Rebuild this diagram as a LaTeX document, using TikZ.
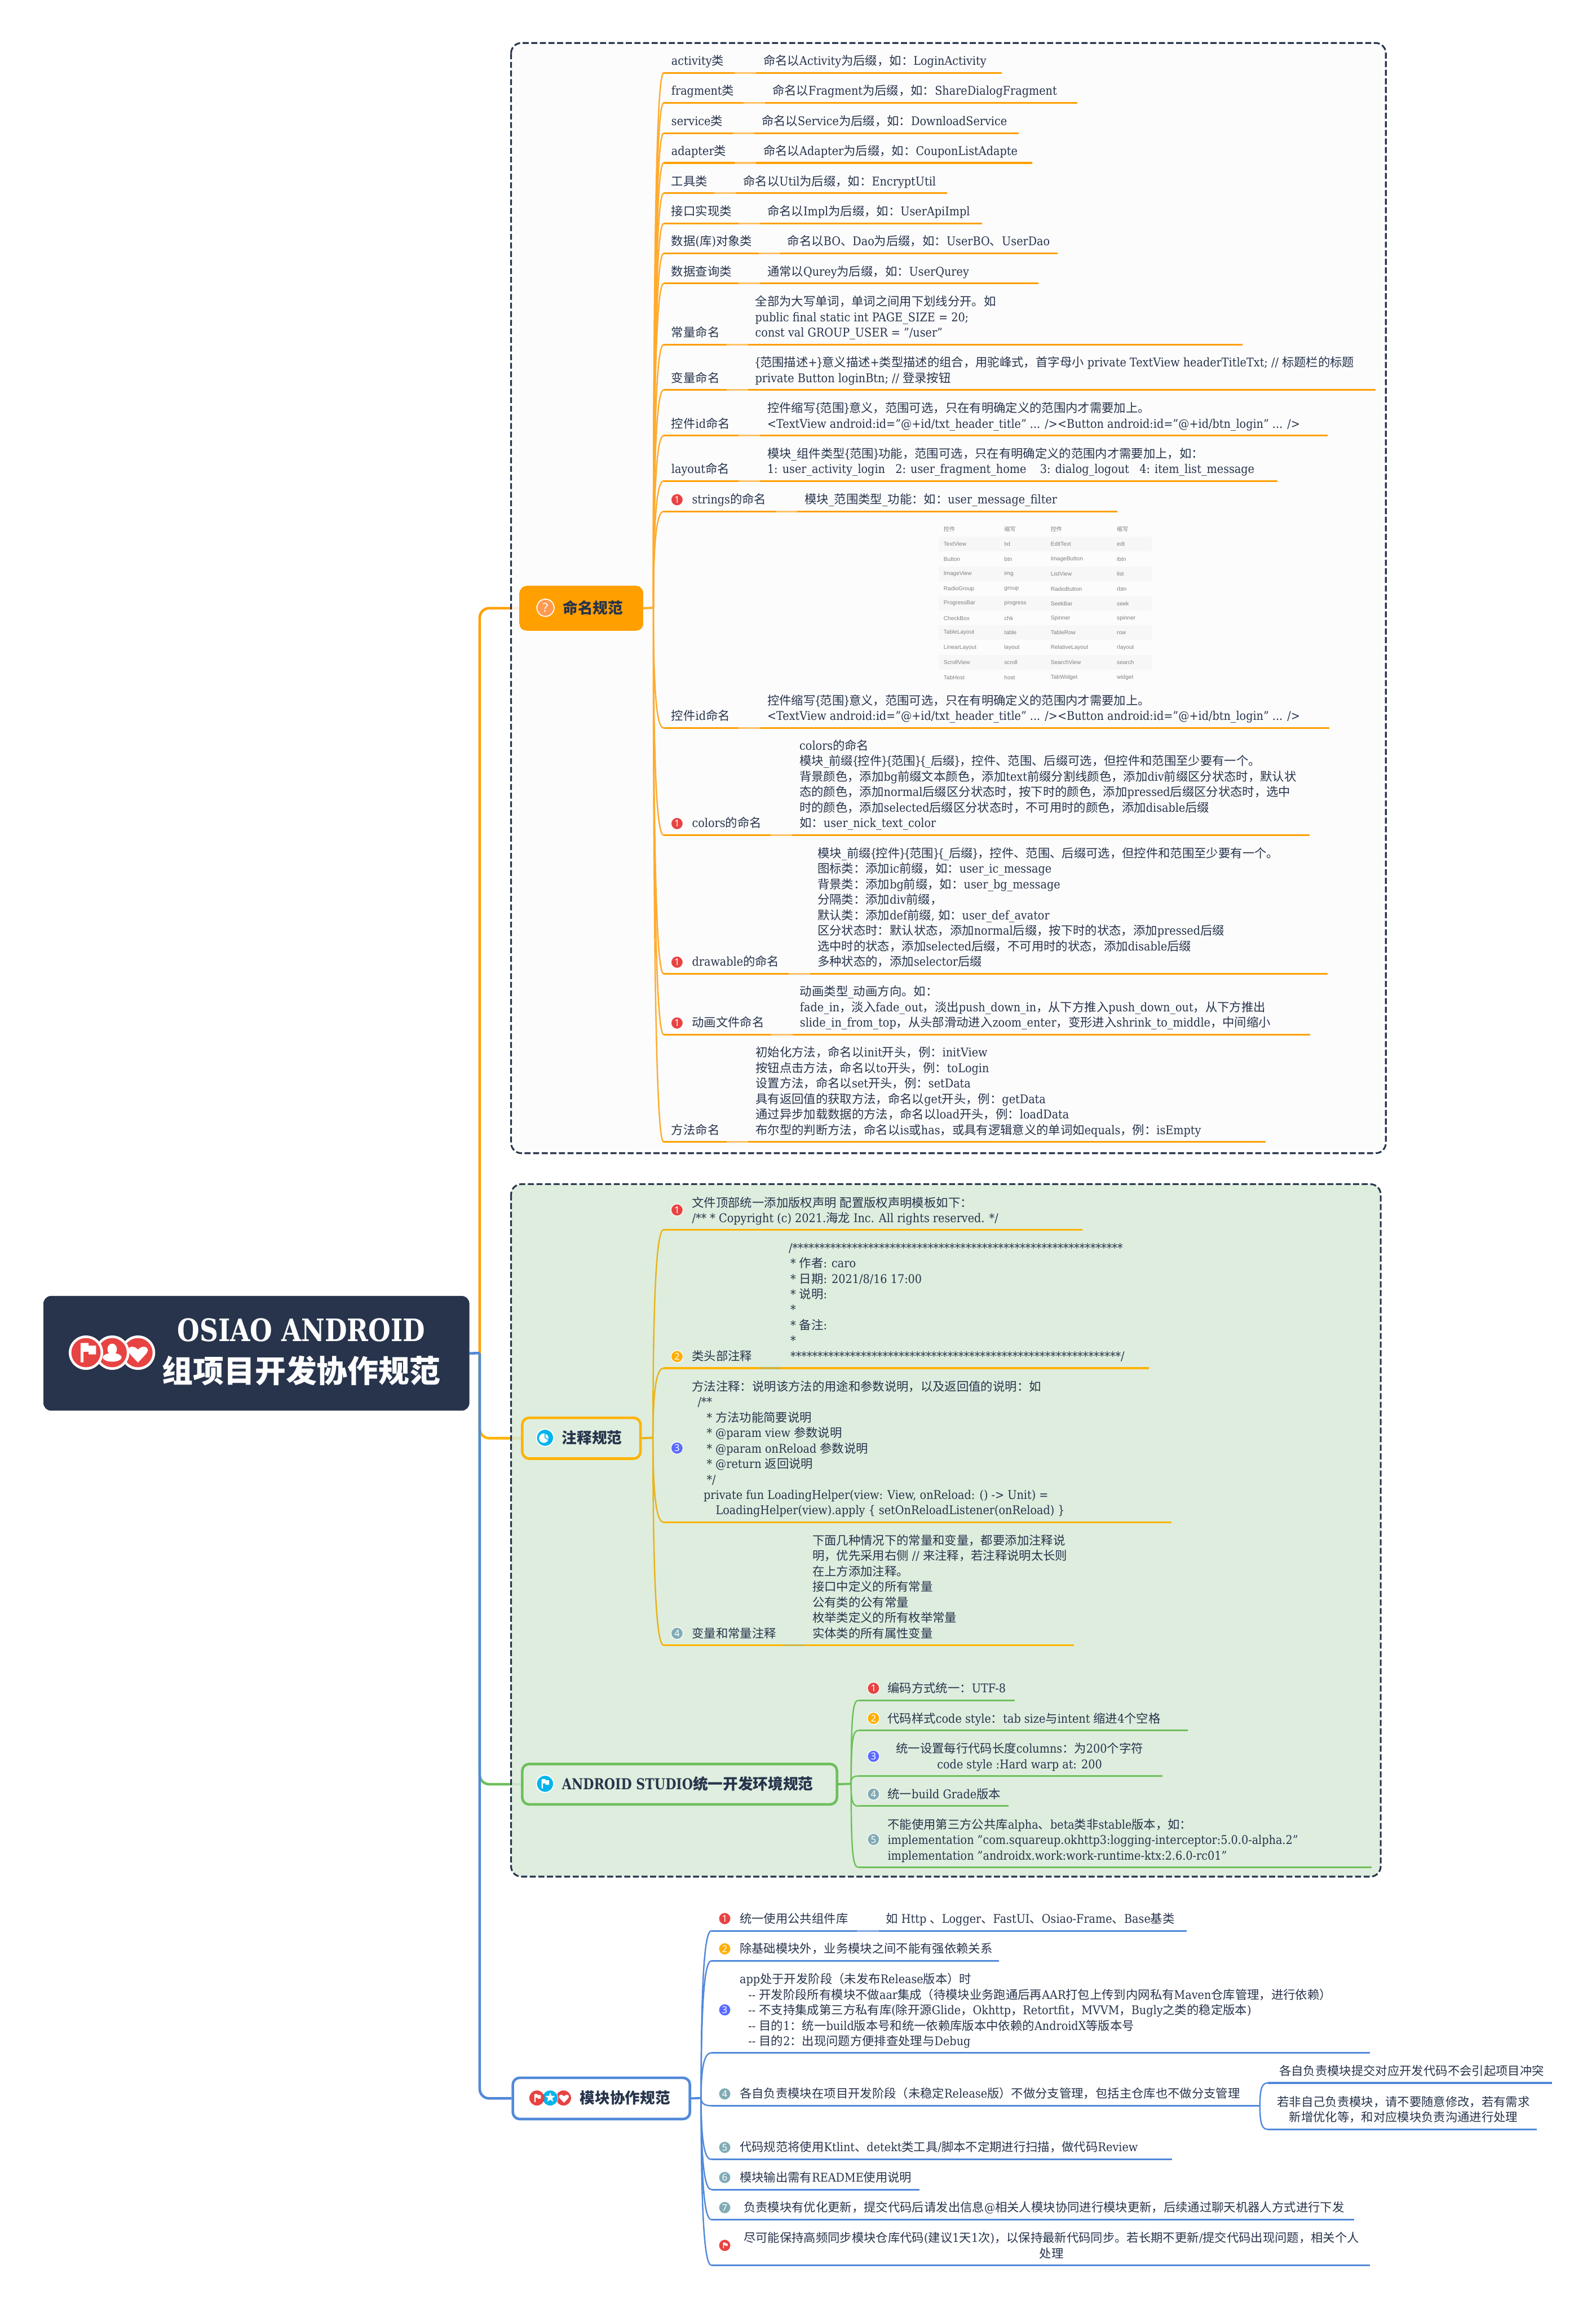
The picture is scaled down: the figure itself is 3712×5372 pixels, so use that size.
\documentclass[tikz,border=0pt]{standalone}
\usepackage{fontspec}
\usetikzlibrary{calc,shapes.geometric}
\setmainfont{DejaVu Serif}[FakeStretch=0.9]
\newfontfamily\cjkf{Noto Sans CJK SC}
\newfontfamily\ttlf{DejaVu Serif}[FakeStretch=0.83]
\newfontfamily\numf{Noto Sans}
\newfontfamily\cellf{Liberation Sans}
\newcommand\latf{\rmfamily}
\newcommand\lb{\kern-1.2pt\{\kern-1.2pt}
\newcommand\rb{\kern-1.2pt\}\kern-1.2pt}
\XeTeXinterchartokenstate=1
\newXeTeXintercharclass\cjkclass
\newcount\cc
\cc="3000 \loop\ifnum\cc<"3040 \XeTeXcharclass\cc=\cjkclass \advance\cc 1 \repeat
\cc="4E00 \loop\ifnum\cc<"A000 \XeTeXcharclass\cc=\cjkclass \advance\cc 1 \repeat
\cc="FF00 \loop\ifnum\cc<"FFF0 \XeTeXcharclass\cc=\cjkclass \advance\cc 1 \repeat
\XeTeXinterchartoks 0 \cjkclass = {\cjkf}
\XeTeXinterchartoks \cjkclass 0 = {\latf}
\XeTeXinterchartoks 4095 \cjkclass = {\cjkf}
\XeTeXinterchartoks \cjkclass 4095 = {\latf}
\definecolor{ink}{HTML}{27344C}
\definecolor{orgA}{HTML}{FF9F00}
\definecolor{orgB}{HTML}{FFAB2E}
\definecolor{orgC}{HTML}{FFC266}
\definecolor{yelA}{HTML}{FFB300}
\definecolor{yelB}{HTML}{E8B41A}
\definecolor{yelC}{HTML}{D3B43A}
\definecolor{grnA}{HTML}{6EBF5B}
\definecolor{grnC}{HTML}{8CCB7C}
\definecolor{bluA}{HTML}{5189DA}
\definecolor{bluC}{HTML}{7FA8E4}
\definecolor{mkred}{HTML}{E84343}
\definecolor{mkyel}{HTML}{FFAE00}
\definecolor{mkblu}{HTML}{5A6BFF}
\definecolor{mkgry}{HTML}{80ABB5}
\definecolor{mkcya}{HTML}{00B4EE}
\definecolor{mkorg}{HTML}{FF9A52}
\definecolor{pale}{HTML}{DFEEDF}
\definecolor{frameg}{HTML}{D9EBD9}
\definecolor{framew}{HTML}{FCFCFC}
\pgfdeclarelayer{backl}\pgfdeclarelayer{midl}\pgfsetlayers{backl,midl,main}
\tikzset{
 txt/.style={inner sep=0pt,outer sep=0pt,text=ink,align=left,font=\fontsize{14}{18}\selectfont},
 txtb/.style={txt,anchor=base west},
 txtc/.style={txt,anchor=base,align=center},
 topicname/.style={inner sep=0pt,text=ink,anchor=west,font=\fontsize{17.5}{20}\selectfont\bfseries},
 branchl/.style={draw=bc,line width=1.6pt},
 uline/.style={draw=uc,line width=2pt},
 segl/.style={draw=sc,line width=2pt},
 stub/.style={draw=bc,line width=2.5pt},
 marker/.style={circle,inner sep=0pt,minimum size=14pt,draw=white,line width=0.8pt,text=white,font=\numf\fontsize{11}{11}\selectfont\bfseries},
 bigmark/.style={marker,minimum size=20pt,line width=1.2pt,font=\numf\fontsize{14}{14}\selectfont\bfseries},
 topic/.style={rectangle,rounded corners=8pt,line width=3pt,inner sep=0pt},
 frame/.style={draw=ink,line width=2pt,dash pattern=on 7pt off 3pt,rounded corners=12pt,fill opacity=.85},
 main/.style={line width=3pt,rounded corners=11pt},
 cell/.style={inner sep=0pt,anchor=west,text=black!50,font=\cellf\fontsize{6.6}{8}\selectfont},
}
% one underlined row and the branch that feeds it
\newcommand\urow[5]{%
 \coordinate (#1s) at (#4,#3);\coordinate (#1e) at (#5,#3);
 \draw[branchl] (#2) .. controls ($(#2)!.82!(#2 |- #1s)$) and ($(#1s)+(-13,0)$) .. (#1s);
 \draw[uline] (#1s) -- (#1e);}
\newcommand\seg[2]{\draw[segl] (#1-67,#2) -- (#1-17,#2);}
% name hub y xend title valx value
\newcommand\nrow[7]{\urow{#1}{#2}{#3}{1544}{#4}\seg{#6}{#3}%
 \node[txtb] (#1t) at (1562,#3-18) {#5};
 \node[txtb] (#1v) at (#6,#3-18) {#7};}
% as above with marker "1" in front
\newcommand\mrow[7]{\urow{#1}{#2}{#3}{1544}{#4}\seg{#6}{#3}%
 \node[marker,fill=mkred] (#1k) at (1575,#3-27) {1};
 \node[txtb] (#1t) at (1610,#3-18) {#5};
 \node[txtb] (#1v) at (#6,#3-18) {#7};}
\newcommand\mk[5]{\node[marker,fill=#4] (#1) at (#2,#3) {#5};}
\newcommand\flagicon[3]{\begin{scope}[shift={(#1,#2)},scale=#3]
 \fill[white] (-8,-11) -- (1,-11) -- (1,-8) -- (9.5,-8) -- (9.5,2) -- (1,2) -- (1,-1) -- (-4.7,-1) -- (-4.7,11) -- (-8,11) -- cycle;
 \end{scope}}
\newcommand\hearticon[3]{\begin{scope}[shift={(#1,#2)},scale=#3]
 \fill[white] (0,20) .. controls (-14,5) and (-23,-3) .. (-23,-9) .. controls (-23,-18) and (-8,-20) .. (0,-10) .. controls (8,-20) and (23,-18) .. (23,-9) .. controls (23,-3) and (14,5) .. (0,20) -- cycle;
 \end{scope}}
\begin{document}
\begin{tikzpicture}[x=0.5pt,y=-0.5pt]
\useasboundingbox (0,0) rectangle (3712,5372);
\begin{pgfonlayer}{backl}
\fill[white] (0,0) rectangle (3712,5372);
\end{pgfonlayer}
% ---- root
\node[topic,fill=ink,rounded corners=9pt,line width=0pt,minimum width=495.5pt,minimum height=133.5pt] (root) at (596.5,3148.5) {};
\fill[white] (321,3147) circle[radius=40];\fill[mkred] (321,3147) circle[radius=34];\hearticon{321}{3150}{1}
\fill[white] (261,3147) circle[radius=40];\fill[mkred] (261,3147) circle[radius=34];
\fill[white] (261,3139) ellipse[x radius=11,y radius=13];\fill[white] (261,3158) ellipse[x radius=22,y radius=10];
\fill[white] (200,3147) circle[radius=40];\fill[mkred] (200,3147) circle[radius=34];\flagicon{204}{3147}{2.05}
\node[inner sep=0pt,text=white,align=center,font=\fontsize{36}{48}\selectfont\bfseries] (roott) at (701,3146) {\let\latf\ttlf\ttlf OSIAO ANDROID\\组项目开发协作规范};
% ---- topics
\node[topic,fill=orgA,draw=orgA,line width=0pt,minimum width=143.5pt,minimum height=51.5pt] (n1) at (1352.5,1415) {};
\node[bigmark,fill=mkorg] (ic1) at (1269,1414) {?};
\node[topicname] (n1t) at (1309,1414) {命名规范};
\node[topic,fill=pale,draw=yelA,minimum width=137.5pt,minimum height=47.5pt] (n2) at (1352.5,3346) {};
\node[bigmark,fill=mkcya] (ic2) at (1268,3345) {};
\fill[white] (1265,3346) circle[radius=11];
\draw[mkcya,line width=1pt] (1268,3345) -- (1268,3330) (1268,3345) -- (1283,3353);
\node[topicname] (n2t) at (1307,3345) {注释规范};
\node[topic,fill=pale,draw=grnA,minimum width=366pt,minimum height=47pt] (n3) at (1581,4151) {};
\node[bigmark,fill=mkcya] (ic3) at (1268,4150) {};
\flagicon{1268}{4150}{1}
\node[topicname] (n3t) at (1307,4150) {\let\latf\ttlf\ttlf ANDROID STUDIO统一开发环境规范};
\node[topic,fill=white,draw=bluA,minimum width=206pt,minimum height=48pt] (n4) at (1399,4882) {};
\fill[mkred] (1311,4881) circle[radius=17.5];\hearticon{1312}{4882}{.5}
\fill[white] (1280,4881) circle[radius=18.5];\fill[mkcya] (1280,4881) circle[radius=17.5];
\node[star,star points=5,star point ratio=2.4,fill=white,inner sep=0pt,minimum size=12pt] (ic4s) at (1280,4880) {};
\fill[mkred] (1249,4881) circle[radius=17.5];\flagicon{1250}{4881}{.85}
\node[topicname] (n4t) at (1349,4881) {模块协作规范};
% ---- main connectors, under the frames
\coordinate (hub) at (1116,3148);
\begin{pgfonlayer}{backl}
\draw[main,orgA] (hub) |- (n1.west);
\draw[main,yelA] (hub) |- (n2.west);
\draw[main,grnA] (hub) |- (n3.west);
\draw[main,bluA] (hub) |- (n4.west);
\draw[line width=3pt,bluA] (root.east) -- (hub);
\end{pgfonlayer}
\begin{pgfonlayer}{midl}
\path[frame,fill=framew] (1189,100) rectangle (3224,2683);
\path[frame,fill=frameg] (1189,2755) rectangle (3212,4366);
\end{pgfonlayer}
% ---- naming rules
\begin{scope}
\colorlet{bc}{orgB}\colorlet{uc}{orgA}\colorlet{sc}{orgC}
\coordinate (hub1) at (1520,1414);
\draw[stub] (n1.east) -- (hub1);
\nrow{a}{hub1}{169.5}{2330}{activity类}{1776}{命名以Activity为后缀，如：LoginActivity}
\nrow{b}{hub1}{239}{2506}{fragment类}{1797}{命名以Fragment为后缀，如：ShareDialogFragment}
\nrow{c}{hub1}{309.6}{2370}{service类}{1772}{命名以Service为后缀，如：DownloadService}
\nrow{d}{hub1}{379}{2401}{adapter类}{1776}{命名以Adapter为后缀，如：CouponListAdapte}
\nrow{e}{hub1}{449.6}{2203}{工具类}{1729}{命名以Util为后缀，如：EncryptUtil}
\nrow{f}{hub1}{520}{2285}{接口实现类}{1785}{命名以Impl为后缀，如：UserApiImpl}
\nrow{g}{hub1}{589.7}{2461}{数据(库)对象类}{1832}{命名以BO、Dao为后缀，如：UserBO、UserDao}
\nrow{h}{hub1}{659.4}{2416}{数据查询类}{1785}{通常以Qurey为后缀，如：UserQurey}
\nrow{i}{hub1}{801.7}{2890}{常量命名}{1757}{全部为大写单词，单词之间用下划线分开。如\\public final static int PAGE\_SIZE = 20;\\const val GROUP\_USER = "/user"}
\nrow{j}{hub1}{907.3}{3200}{变量命名}{1757}{\lb 范围描述+\rb 意义描述+类型描述的组合，用驼峰式，首字母小 private TextView headerTitleTxt; // 标题栏的标题\\private Button loginBtn; // 登录按钮}
\nrow{k}{hub1}{1013.6}{3088}{控件id命名}{1785}{控件缩写\lb 范围\rb 意义，范围可选，只在有明确定义的范围内才需要加上。\\<TextView android:id="@+id/txt\_header\_title" ... /><Button android:id="@+id/btn\_login" ... />}
\nrow{l}{hub1}{1119}{2972}{layout命名}{1785}{模块\_组件类型\lb 范围\rb 功能，范围可选，只在有明确定义的范围内才需要加上，如：\\1: user\_activity\_login~~~2: user\_fragment\_home~~~~3: dialog\_logout~~~4: item\_list\_message}
\mrow{m}{hub1}{1189.6}{2600}{strings的命名}{1872}{模块\_范围类型\_功能：如：user\_message\_filter}
% control table
\foreach \yy in {1266,1335,1404,1472,1541} \fill[black!3] (2184,\yy-17) rectangle (2680,\yy+17);
\foreach \yy/\aa/\bb/\cc/\dd in {1231/控件/缩写/控件/缩写,1266/TextView/txt/EditText/edt,1301/Button/btn/ImageButton/ibtn,1335/ImageView/img/ListView/list,1370/RadioGroup/group/RadioButton/rbtn,1404/ProgressBar/progress/SeekBar/seek,1438/CheckBox/chk/Spinner/spinner,1472/TableLayout/table/TableRow/row,1507/LinearLayout/layout/RelativeLayout/rlayout,1541/ScrollView/scroll/SearchView/search,1576/TabHost/host/TabWidget/widget}{
 \node[cell] (ca\yy) at (2195,\yy) {\aa};
 \node[cell] (cb\yy) at (2336,\yy) {\bb};
 \node[cell] (cc\yy) at (2444,\yy) {\cc};
 \node[cell] (cd\yy) at (2598,\yy) {\dd};}
\nrow{n}{hub1}{1693.6}{3092}{控件id命名}{1785}{控件缩写\lb 范围\rb 意义，范围可选，只在有明确定义的范围内才需要加上。\\<TextView android:id="@+id/txt\_header\_title" ... /><Button android:id="@+id/btn\_login" ... />}
\mrow{o}{hub1}{1943}{3046}{colors的命名}{1860}{colors的命名\\模块\_前缀\lb 控件\rb\lb 范围\rb\lb\_后缀\rb，控件、范围、后缀可选，但控件和范围至少要有一个。\\背景颜色，添加bg前缀文本颜色，添加text前缀分割线颜色，添加div前缀区分状态时，默认状\\态的颜色，添加normal后缀区分状态时，按下时的颜色，添加pressed后缀区分状态时，选中\\时的颜色，添加selected后缀区分状态时，不可用时的颜色，添加disable后缀\\如：user\_nick\_text\_color}
\mrow{p}{hub1}{2265.5}{3088}{drawable的命名}{1902}{模块\_前缀\lb 控件\rb\lb 范围\rb\lb\_后缀\rb，控件、范围、后缀可选，但控件和范围至少要有一个。\\图标类：添加ic前缀，如：user\_ic\_message\\背景类：添加bg前缀，如：user\_bg\_message\\分隔类：添加div前缀，\\默认类：添加def前缀, 如：user\_def\_avator\\区分状态时：默认状态，添加normal后缀，按下时的状态，添加pressed后缀\\选中时的状态，添加selected后缀，不可用时的状态，添加disable后缀\\多种状态的，添加selector后缀}
\mrow{q}{hub1}{2407}{3048}{动画文件命名}{1861}{动画类型\_动画方向。如：\\fade\_in，淡入fade\_out，淡出push\_down\_in，从下方推入push\_down\_out，从下方推出\\slide\_in\_from\_top，从头部滑动进入zoom\_enter，变形进入shrink\_to\_middle，中间缩小}
\nrow{r}{hub1}{2657}{2944}{方法命名}{1758}{初始化方法，命名以init开头，例：initView\\按钮点击方法，命名以to开头，例：toLogin\\设置方法，命名以set开头，例：setData\\具有返回值的获取方法，命名以get开头，例：getData\\通过异步加载数据的方法，命名以load开头，例：loadData\\布尔型的判断方法，命名以is或has，或具有逻辑意义的单词如equals，例：isEmpty}
\end{scope}
% ---- comment rules
\begin{scope}
\colorlet{bc}{yelB}\colorlet{uc}{yelA}\colorlet{sc}{yelC}
\coordinate (hub2) at (1519,3345);
\draw[stub] (n2.east) -- (hub2);
\urow{ca}{hub2}{2861}{1544}{2518}
\mk{cak}{1575}{2815}{mkred}{1}
\node[txtb] (cat) at (1610,2844) {文件顶部统一添加版权声明 配置版权声明模板如下：\\/** * Copyright (c) 2021.海龙 Inc. All rights reserved. */};
\urow{cb}{hub2}{3183}{1544}{2673}\draw[segl] (1767,3183) -- (1816,3183);
\mk{cbk}{1575}{3156}{mkyel}{2}
\node[txtb] (cbt) at (1610,3165) {类头部注释};
\node[txtb] (cbv) at (1835,3165) {/*************************************************************\\\hspace*{2pt}* 作者: caro\\\hspace*{2pt}* 日期: 2021/8/16 17:00\\\hspace*{2pt}* 说明:\\\hspace*{2pt}*\\\hspace*{2pt}* 备注:\\\hspace*{2pt}*\\\hspace*{2pt}*************************************************************/};
\urow{cc}{hub2}{3541.6}{1544}{2725}
\mk{cck}{1575}{3369}{mkblu}{3}
\node[txtb] (cct) at (1610,3524) {方法注释：说明该方法的用途和参数说明，以及返回值的说明：如\\\hspace*{6.5pt}/**\\\hspace*{17pt}* 方法功能简要说明\\\hspace*{17pt}* @param view 参数说明\\\hspace*{17pt}* @param onReload 参数说明\\\hspace*{17pt}* @return 返回说明\\\hspace*{17pt}*/\\\hspace*{13.5pt}private fun LoadingHelper(view: View, onReload: () -> Unit) =\\\hspace*{27.5pt}LoadingHelper(view).apply \{ setOnReloadListener(onReload) \}};
\urow{cd}{hub2}{3827.8}{1544}{2499}\draw[segl] (1823,3827.8) -- (1873,3827.8);
\mk{cdk}{1575}{3800}{mkgry}{4}
\node[txtb] (cdt) at (1610,3810) {变量和常量注释};
\node[txtb] (cdv) at (1890,3810) {下面几种情况下的常量和变量，都要添加注释说\\明，优先采用右侧 // 来注释，若注释说明太长则\\在上方添加注释。\\接口中定义的所有常量\\公有类的公有常量\\枚举类定义的所有枚举常量\\实体类的所有属性变量};
\end{scope}
% ---- android studio
\begin{scope}
\colorlet{bc}{grnA}\colorlet{uc}{grnA}\colorlet{sc}{grnC}
\coordinate (hub3) at (1980,4150);
\draw[stub] (n3.east) -- (hub3);
\urow{ga}{hub3}{3955.8}{1997}{2361}
\mk{gak}{2032}{3927.7}{mkred}{1}
\node[txtb] (gat) at (2065,3938) {编码方式统一：UTF-8};
\urow{gb}{hub3}{4025.8}{1997}{2764}
\mk{gbk}{2032}{3997.7}{mkyel}{2}
\node[txtb] (gbt) at (2065,4008) {代码样式code style：tab size与intent 缩进4个空格};
\urow{gc}{hub3}{4132}{1997}{2704}
\mk{gck}{2032}{4086}{mkblu}{3}
\node[txtc] (gct) at (2372,4114.5) {统一设置每行代码长度columns：为200个字符\\code style :Hard warp at: 200};
\urow{gd}{hub3}{4202}{1997}{2346}
\mk{gdk}{2032}{4174}{mkgry}{4}
\node[txtb] (gdt) at (2065,4184) {统一build Grade版本};
\urow{ge}{hub3}{4344.5}{1997}{3191}
\mk{gek}{2032}{4279.6}{mkgry}{5}
\node[txtb] (get) at (2065,4327) {不能使用第三方公共库alpha、beta类非stable版本，如：\\implementation "com.squareup.okhttp3:logging-interceptor:5.0.0-alpha.2"\\implementation "androidx.work:work-runtime-ktx:2.6.0-rc01"};
\end{scope}
% ---- module rules
\begin{scope}
\colorlet{bc}{bluA}\colorlet{uc}{bluA}\colorlet{sc}{bluC}
\coordinate (hub4) at (1631,4881);
\draw[stub] (n4.east) -- (hub4);
\urow{ma}{hub4}{4492}{1655}{2761}\draw[segl] (1994,4492) -- (2044,4492);
\mk{mak}{1686}{4463.6}{mkred}{1}
\node[txtb] (mat) at (1721,4474) {统一使用公共组件库};
\node[txtb] (mav) at (2061,4474) {如 Http 、Logger、FastUI、Osiao-Frame、Base基类};
\urow{mb}{hub4}{4562}{1655}{2324}
\mk{mbk}{1686}{4534}{mkyel}{2}
\node[txtb] (mbt) at (1721,4544) {除基础模块外，业务模块之间不能有强依赖关系};
\urow{mc}{hub4}{4776}{1655}{3187}
\mk{mck}{1686}{4676}{mkblu}{3}
\node[txtb] (mct) at (1721,4759) {app处于开发阶段（未发布Release版本）时\\\hspace*{10pt}{-}{-} 开发阶段所有模块不做aar集成（待模块业务跑通后再AAR打包上传到内网私有Maven仓库管理，进行依赖）\\\hspace*{10pt}{-}{-} 不支持集成第三方私有库(除开源Glide，Okhttp，Retortfit，MVVM，Bugly之类的稳定版本)\\\hspace*{10pt}{-}{-} 目的1：统一build版本号和统一依赖库版本中依赖的AndroidX等版本号\\\hspace*{10pt}{-}{-} 目的2：出现问题方便排查处理与Debug};
\urow{md}{hub4}{4899}{1655}{2931}
\mk{mdk}{1686}{4871.5}{mkgry}{4}
\node[txtb] (mdt) at (1721,4881) {各自负责模块在项目开发阶段（未稳定Release版）不做分支管理，包括主仓库也不做分支管理};
\urow{me}{hub4}{5024}{1655}{2727}
\mk{mek}{1686}{4996}{mkgry}{5}
\node[txtb] (met) at (1721,5006) {代码规范将使用Ktlint、detekt类工具/脚本不定期进行扫描，做代码Review};
\urow{mf}{hub4}{5094}{1655}{2139}
\mk{mfk}{1686}{5066}{mkgry}{6}
\node[txtb] (mft) at (1721,5076) {模块输出需有README使用说明};
\urow{mg}{hub4}{5164}{1655}{3150}
\mk{mgk}{1686}{5136}{mkgry}{7}
\node[txtb] (mgt) at (1730,5146) {负责模块有优化更新，提交代码后请发出信息@相关人模块协同进行模块更新，后续通过聊天机器人方式进行下发};
\urow{mh}{hub4}{5270}{1655}{3187}
\node[marker,fill=mkred] (mhk) at (1686,5224) {};
\flagicon{1687}{5224}{.6}
\node[txtc] (mht) at (2446,5253) {尽可能保持高频同步模块仓库代码(建议1天1次)，以保持最新代码同步。若长期不更新/提交代码出现问题，相关个人\\处理};
\urow{sa}{mde}{4846}{2950}{3610}
\node[txtc] (sat) at (3284,4828) {各自负责模块提交对应开发代码不会引起项目冲突};
\urow{sb}{mde}{4954}{2950}{3575}
\node[txtc] (sbt) at (3265,4936.5) {若非自己负责模块，请不要随意修改，若有需求\\新增优化等，和对应模块负责沟通进行处理};
\end{scope}
\end{tikzpicture}
\end{document}
